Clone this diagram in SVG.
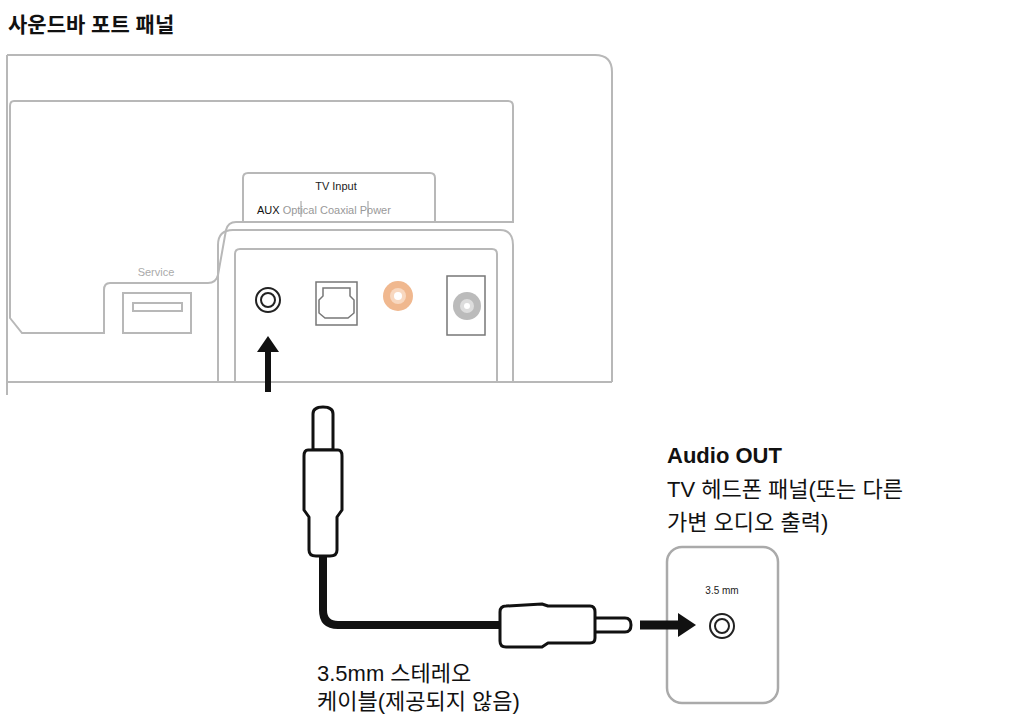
<svg xmlns="http://www.w3.org/2000/svg" width="1012" height="718" viewBox="0 0 1012 718">
<style>
.f{font-family:"Liberation Sans","Noto Sans CJK KR",sans-serif}
.ln{fill:none;stroke:#b8b8b8;stroke-width:2}
.pl{fill:#fff;stroke:#111;stroke-width:3;stroke-linejoin:round}
</style>
<rect width="1012" height="718" fill="#fff"/>
<text class="f" x="8" y="32" font-size="21" font-weight="bold" fill="#111">사운드바 포트 패널</text>
<g id="soundbar">
<path class="ln" d="M7 55 H595 Q612 55 612 72 V382 M7 55 V395" stroke-width="2.5"/>
<path class="ln" d="M7 382 H612" stroke-width="3"/>
<path class="ln" d="M14 101 H508 Q513 101 513 106 V222 H236 Q228 222 226 230 L218 275 Q216 283 208 283 H110 Q104 283 104 290 V333 H22 L10 318 V106 Q10 101 14 101 Z"/>
<path class="ln" d="M243 222 V178 Q243 173 248 173 H430 Q435 173 435 178 V222"/>
<text class="f" x="336" y="190" font-size="11" text-anchor="middle" fill="#222">TV Input</text>
<text class="f" x="257" y="214" font-size="11" fill="#999"><tspan fill="#111">AUX</tspan> Optical Coaxial Power</text>
<line x1="301" y1="201" x2="301" y2="217" stroke="#999"/>
<line x1="368" y1="201" x2="368" y2="217" stroke="#999"/>
<path class="ln" d="M218 382 V245 Q218 230 233 230 H500 Q513 230 513 245 V382"/>
<path class="ln" d="M235 382 V254 Q235 249 240 249 H492 Q497 249 497 254 V382"/>
<text class="f" x="156" y="276" font-size="11" text-anchor="middle" fill="#aaa">Service</text>
<rect class="ln" x="123" y="293" width="68" height="40" stroke-width="1.5" stroke="#999"/>
<rect class="ln" x="133" y="303" width="49" height="8" stroke-width="1.5" stroke="#999"/>
<circle cx="268" cy="300" r="12" fill="none" stroke="#222" stroke-width="2"/>
<circle cx="268" cy="300" r="7" fill="none" stroke="#222" stroke-width="2"/>
<rect x="316" y="282" width="41" height="43" fill="none" stroke="#777" stroke-width="1.5"/>
<path d="M323 288 H350 V296 L354 300 V313 L348 318 H325 L319 313 V300 L323 296 Z" fill="none" stroke="#777" stroke-width="1.5"/>
<circle cx="398" cy="296" r="15" fill="#f0b88f"/>
<circle cx="398" cy="296" r="8" fill="#f8d8c0"/>
<circle cx="398" cy="296" r="4" fill="#fff"/>
<rect x="447" y="276" width="38" height="59" fill="none" stroke="#777" stroke-width="1.5"/>
<circle cx="467" cy="306" r="14" fill="#bbb"/>
<circle cx="467" cy="306" r="7" fill="#ddd"/>
<circle cx="467" cy="306" r="3" fill="#fff"/>
</g>
<g id="audio-out">
<rect x="667" y="547" width="111" height="156" rx="15" fill="#fff" stroke="#aaa" stroke-width="2.5"/>
<text class="f" x="722" y="594" font-size="10" text-anchor="middle" fill="#222">3.5 mm</text>
<circle cx="722" cy="626" r="12" fill="none" stroke="#222" stroke-width="2"/>
<circle cx="722" cy="626" r="7" fill="none" stroke="#222" stroke-width="2"/>
</g>
<g id="connectors">
<path d="M268 392 V350" stroke="#111" stroke-width="6"/>
<path d="M257 352 L268 336 L279 352 Z" fill="#111"/>
<path d="M323 555 V610 Q323 625 338 625 H505" fill="none" stroke="#111" stroke-width="8"/>
<path d="M640 625 H680" stroke="#111" stroke-width="9"/>
<path d="M678 613 L696 625 L678 637 Z" fill="#111"/>
</g>
<g id="cable-plugs">
<path class="pl" d="M313 450 V414 Q313 407 323 407 Q333 407 333 414 V450 Z"/>
<path class="pl" d="M308 450 H338 Q342 450 342 456 V510 L337 517 V550 Q337 556 330 556 H316 Q309 556 309 550 V517 L304 510 V456 Q304 450 308 450 Z"/>
<path class="pl" d="M593 618 H625 Q631 618 631 625 Q631 632 625 632 H593 Z"/>
<path class="pl" d="M506 606 Q500 606 500 612 V641 Q500 647 506 647 H542 L548 643 H590 Q595 643 595 638 V612 Q595 606 590 606 H548 L542 604 Z"/>
</g>
<text class="f" x="667" y="463" font-size="22" font-weight="bold" fill="#111">Audio OUT</text>
<text class="f" x="667" y="497" font-size="22" fill="#111">TV 헤드폰 패널(또는 다른</text>
<text class="f" x="667" y="530" font-size="22" fill="#111">가변 오디오 출력)</text>
<text class="f" x="317" y="681" font-size="22" fill="#111">3.5mm 스테레오</text>
<text class="f" x="317" y="709" font-size="22" fill="#111">케이블(제공되지 않음)</text>
</svg>
